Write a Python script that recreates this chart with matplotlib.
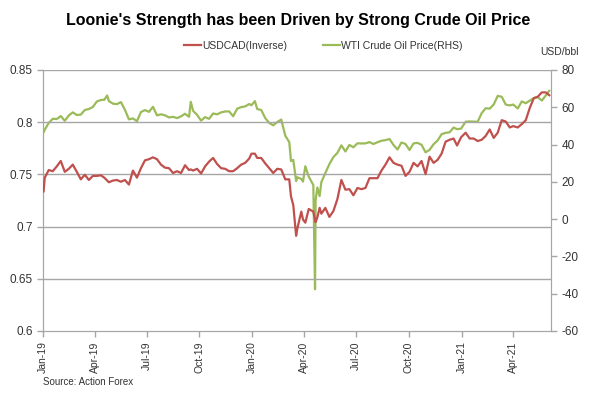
import pandas as pd
import matplotlib
matplotlib.use('Agg')
import matplotlib.pyplot as plt
import matplotlib.dates as mdates

plt.rcParams['font.family'] = ['Liberation Sans', 'DejaVu Sans']
plt.rcParams['axes.unicode_minus'] = False

# 周度数据（读图 + 估计）
dates = [
    '2019-01-02', '2019-01-04', '2019-01-11', '2019-01-18', '2019-01-25', '2019-02-01', '2019-02-08',
    '2019-02-15', '2019-02-22', '2019-03-01', '2019-03-08', '2019-03-15', '2019-03-22', '2019-03-29',
    '2019-04-05', '2019-04-12', '2019-04-18', '2019-04-23', '2019-04-26', '2019-05-03', '2019-05-10',
    '2019-05-17', '2019-05-24', '2019-05-31', '2019-06-07', '2019-06-14', '2019-06-21', '2019-06-28',
    '2019-07-05', '2019-07-12', '2019-07-19', '2019-07-26', '2019-08-02', '2019-08-09', '2019-08-16',
    '2019-08-23', '2019-08-30', '2019-09-06', '2019-09-13', '2019-09-16', '2019-09-20', '2019-09-27',
    '2019-10-04', '2019-10-11', '2019-10-18', '2019-10-25', '2019-11-01', '2019-11-08', '2019-11-15',
    '2019-11-22', '2019-11-29', '2019-12-06', '2019-12-13', '2019-12-20', '2019-12-27', '2019-12-31',
    '2020-01-06', '2020-01-10', '2020-01-17', '2020-01-24', '2020-01-31', '2020-02-07', '2020-02-14',
    '2020-02-21', '2020-02-28', '2020-03-06', '2020-03-09', '2020-03-13', '2020-03-18', '2020-03-20',
    '2020-03-27', '2020-03-30', '2020-04-03', '2020-04-09', '2020-04-17', '2020-04-20', '2020-04-21',
    '2020-04-24', '2020-04-28', '2020-05-01', '2020-05-08', '2020-05-15', '2020-05-22', '2020-05-29',
    '2020-06-05', '2020-06-12', '2020-06-19', '2020-06-26', '2020-07-03', '2020-07-10', '2020-07-17',
    '2020-07-24', '2020-07-31', '2020-08-07', '2020-08-14', '2020-08-21', '2020-08-28', '2020-09-04',
    '2020-09-11', '2020-09-18', '2020-09-25', '2020-10-02', '2020-10-09', '2020-10-16', '2020-10-23',
    '2020-10-30', '2020-11-06', '2020-11-13', '2020-11-20', '2020-11-27', '2020-12-04', '2020-12-11',
    '2020-12-18', '2020-12-24', '2020-12-31', '2021-01-08', '2021-01-15', '2021-01-22', '2021-01-29',
    '2021-02-05', '2021-02-12', '2021-02-19', '2021-02-26', '2021-03-05', '2021-03-12', '2021-03-19',
    '2021-03-26', '2021-04-01', '2021-04-09', '2021-04-16', '2021-04-23', '2021-04-30', '2021-05-07',
    '2021-05-14', '2021-05-21', '2021-05-28', '2021-06-03',
]

usdcad_inv = [
    0.7337, 0.7468, 0.7541, 0.7530, 0.7576, 0.7628, 0.7524,
    0.7553, 0.7593, 0.7524, 0.7452, 0.7496, 0.7446, 0.7485,
    0.7485, 0.7491, 0.7468, 0.7440, 0.7424, 0.7440, 0.7446,
    0.7429, 0.7446, 0.7402, 0.7536, 0.7468, 0.7559, 0.7634,
    0.7645, 0.7663, 0.7645, 0.7593, 0.7564, 0.7559, 0.7513,
    0.7530, 0.7513, 0.7587, 0.7541, 0.7547, 0.7536, 0.7553,
    0.7508, 0.7576, 0.7622, 0.7657, 0.7599, 0.7559, 0.7553,
    0.7530, 0.7530, 0.7559, 0.7593, 0.7610, 0.7651, 0.7698,
    0.7698, 0.7657, 0.7657, 0.7605, 0.7559, 0.7513, 0.7553,
    0.7547, 0.7452, 0.7452, 0.7289, 0.7205, 0.6911, 0.6978,
    0.7143, 0.7067, 0.7037, 0.7168, 0.7143, 0.7062, 0.7042,
    0.7087, 0.7179, 0.7123, 0.7179, 0.7092, 0.7148, 0.7262,
    0.7446, 0.7353, 0.7358, 0.7299, 0.7369, 0.7358, 0.7369,
    0.7463, 0.7463, 0.7463, 0.7536, 0.7593, 0.7663, 0.7610,
    0.7593, 0.7582, 0.7485, 0.7524, 0.7610, 0.7576, 0.7628,
    0.7502, 0.7669, 0.7610, 0.7639, 0.7698, 0.7813, 0.7831,
    0.7843, 0.7776, 0.7855, 0.7899, 0.7843, 0.7843, 0.7819,
    0.7831, 0.7868, 0.7930, 0.7849, 0.7899, 0.8019, 0.8006,
    0.7949, 0.7962, 0.7949, 0.7981, 0.8019, 0.8137, 0.8230,
    0.8244, 0.8285, 0.8285, 0.8258,
]

wti = [
    46.54, 47.96, 51.59, 53.80, 53.69, 55.26, 52.72,
    55.59, 57.26, 55.80, 56.07, 58.52, 59.04, 60.14,
    63.08, 63.89, 64.00, 66.30, 63.30, 61.94, 61.66,
    62.76, 58.63, 53.50, 54.00, 52.51, 57.43, 58.47,
    57.51, 60.21, 55.63, 56.20, 55.66, 54.50, 54.87,
    54.17, 55.10, 56.52, 54.85, 62.90, 58.09, 55.91,
    52.81, 54.70, 53.78, 56.66, 56.20, 57.24, 57.72,
    57.77, 55.17, 59.20, 60.07, 60.44, 61.72, 61.06,
    63.27, 59.04, 58.54, 54.19, 51.56, 50.32, 52.05,
    53.38, 44.76, 41.28, 31.13, 31.73, 20.37, 22.43,
    21.51, 20.09, 28.34, 22.76, 18.27, -37.63, 10.01,
    16.94, 12.34, 19.78, 24.74, 29.43, 33.25, 35.49,
    39.55, 36.26, 39.75, 38.49, 40.65, 40.55, 40.59,
    41.29, 40.27, 41.22, 42.01, 42.34, 42.97, 39.77,
    37.33, 41.11, 40.25, 37.05, 40.60, 40.88, 39.85,
    35.79, 37.14, 40.13, 42.15, 45.53, 46.26, 46.57,
    49.10, 48.23, 48.52, 52.24, 52.36, 52.27, 52.20,
    56.85, 59.47, 59.24, 61.50, 66.09, 65.61, 61.42,
    60.97, 61.45, 59.32, 63.13, 62.14, 63.58, 64.90,
    65.37, 63.58, 66.32, 68.81,
]

dates = pd.to_datetime(dates)
red = '#C0504D'
green = '#9BBB59'
grey = '#A6A6A6'

fig = plt.figure(figsize=(6, 3.93), dpi=100)
ax = fig.add_axes([0.0717, 0.158, 0.8466, 0.664])
ax2 = ax.twinx()

l1, = ax.plot(dates, usdcad_inv, color=red, lw=1.6, label='USDCAD(Inverse)', zorder=3)
l2, = ax2.plot(dates, wti, color=green, lw=1.6, label='WTI Crude Oil Price(RHS)', zorder=3)
# 红线画在绿线上面
ax.set_zorder(ax2.get_zorder() + 1)
ax.patch.set_visible(False)

ax.set_ylim(0.6, 0.85)
ax.set_yticks([0.6, 0.65, 0.7, 0.75, 0.8, 0.85])
ax.set_yticklabels(['0.6', '0.65', '0.7', '0.75', '0.8', '0.85'])
ax2.set_ylim(-60, 80)
ax2.set_yticks(range(-60, 81, 20))

ax.set_xlim(pd.Timestamp('2019-01-01'), pd.Timestamp('2021-06-06'))
ax.xaxis.set_major_locator(mdates.MonthLocator(bymonth=[1, 4, 7, 10]))
ax.xaxis.set_major_formatter(mdates.DateFormatter('%b-%y'))
plt.setp(ax.get_xticklabels(), rotation=90)

for y in [0.65, 0.7, 0.75, 0.8, 0.85]:
    ax.axhline(y, color=grey, lw=1, zorder=1)

for a in (ax, ax2):
    for s in a.spines.values():
        s.set_color(grey)
    a.spines['top'].set_visible(False)
    a.tick_params(colors=grey, labelcolor='#333333', labelsize=8.5, length=4, width=1)
ax.tick_params(axis='x', labelsize=7.5)

fig.text(0.497, 0.948, "Loonie's Strength has been Driven by Strong Crude Oil Price",
         ha='center', va='center', fontsize=11.5, fontweight='bold')
fig.legend(handles=[l1, l2], loc='center', bbox_to_anchor=(0.539, 0.883), ncol=2,
           frameon=False, fontsize=7.5, handlelength=1.6, columnspacing=3.5,
           handletextpad=0.1, labelcolor='#333333')
fig.text(0.9, 0.868, 'USD/bbl', fontsize=7.5, color='#333333', va='center')
fig.text(0.072, 0.028, 'Source: Action Forex', fontsize=7, color='#333333', va='center')

fig.savefig('out.png', dpi=100)
